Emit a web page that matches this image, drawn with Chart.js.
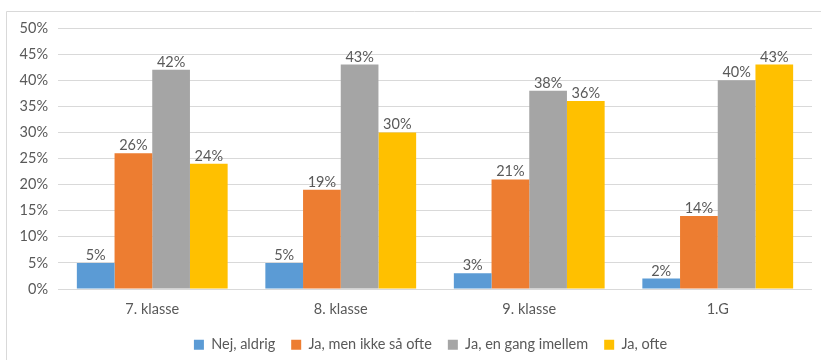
<!DOCTYPE html>
<html>
<head>
<meta charset="utf-8">
<script src="https://cdn.jsdelivr.net/npm/chart.js@4"></script>
<style>
    html, body { margin: 0; padding: 0; background: #fff; }
    #wrap { width: 821px; height: 360px; position: relative; }
</style>
</head>
<body>
<div id="wrap"><canvas id="bar-chart" width="821" height="360"></canvas></div>
<script>
// Categories and series (values in percent)
const categories = ['7. klasse', '8. klasse', '9. klasse', '1.G'];
const nejAldrig = [5, 5, 3, 2];
const jaIkkeSaaOfte = [26, 19, 21, 14];
const jaEnGangImellem = [42, 43, 38, 40];
const jaOfte = [24, 30, 36, 43];
const yTicks = [0, 5, 10, 15, 20, 25, 30, 35, 40, 45, 50];

const fontFamily = 'Lato, "Open Sans", sans-serif';
const fontSize = 14.5;
const textColor = '#595959';

// Draws the value above each bar
const valueLabels = {
    id: 'valueLabels',
    afterDatasetsDraw(chart) {
        const ctx = chart.ctx;
        ctx.save();
        ctx.font = fontSize + 'px ' + fontFamily;
        ctx.fillStyle = textColor;
        ctx.textAlign = 'center';
        ctx.textBaseline = 'alphabetic';
        chart.data.datasets.forEach((ds, i) => {
            const meta = chart.getDatasetMeta(i);
            meta.data.forEach((bar, j) => {
                ctx.fillText(ds.data[j] + '%', bar.x, bar.y - 3);
            });
        });
        ctx.restore();
    }
};

// Thin frame on the left and top edge, like the cropped Excel chart
const frame = {
    id: 'frame',
    beforeDraw(chart) {
        const ctx = chart.ctx;
        ctx.save();
        ctx.fillStyle = '#fff';
        ctx.fillRect(0, 0, chart.width, chart.height);
        ctx.strokeStyle = '#D9D9D9';
        ctx.lineWidth = 1;
        ctx.beginPath();
        ctx.moveTo(6.5, chart.height + 5);
        ctx.lineTo(6.5, 11.5);
        ctx.lineTo(chart.width + 5, 11.5);
        ctx.stroke();
        ctx.restore();
    }
};

// Legend sits a bit right of the canvas centre and lower in the original
const legendShift = {
    id: 'legendShift',
    afterLayout(chart) {
        const lg = chart.legend;
        lg.left = 49;
        lg.width = lg.right - lg.left;
        lg.top += 2;
        lg.bottom += 2;
    }
};

const makeSet = (label, data, color) => ({
    label: label,
    data: data,
    backgroundColor: color,
    borderWidth: 0,
    categoryPercentage: 0.8,
    barPercentage: 1.0
});

const ctx = document.getElementById('bar-chart').getContext('2d');
new Chart(ctx, {
    type: 'bar',
    data: {
        labels: categories,
        datasets: [
            makeSet('Nej, aldrig', nejAldrig, '#5B9BD5'),
            makeSet('Ja, men ikke så ofte', jaIkkeSaaOfte, '#ED7D31'),
            makeSet('Ja, en gang imellem', jaEnGangImellem, '#A5A5A5'),
            makeSet('Ja, ofte', jaOfte, '#FFC000')
        ]
    },
    options: {
        responsive: false,
        animation: false,
        layout: {
            padding: { top: 28, left: 0, right: 9, bottom: 0 }
        },
        plugins: {
            legend: {
                position: 'bottom',
                labels: {
                    boxWidth: 10,
                    boxHeight: 10,
                    padding: 16,
                    color: textColor,
                    font: { family: fontFamily, size: fontSize }
                }
            },
            tooltip: { enabled: false }
        },
        scales: {
            x: {
                grid: { display: false, drawTicks: false },
                border: { display: false },
                ticks: {
                    color: textColor,
                    padding: 12,
                    font: { family: fontFamily, size: fontSize }
                },
                afterFit: (scale) => { scale.height = 30.5; }
            },
            y: {
                min: 0,
                max: 50,
                afterBuildTicks: (scale) => {
                    scale.ticks = yTicks.map(v => ({ value: v }));
                },
                grid: { color: '#D9D9D9', drawTicks: false },
                border: { display: false },
                ticks: {
                    color: textColor,
                    padding: 10,
                    font: { family: fontFamily, size: fontSize },
                    callback: (v) => v + '%'
                },
                afterFit: (scale) => { scale.width = 58; }
            }
        }
    },
    plugins: [frame, legendShift, valueLabels]
});
</script>
</body>
</html>
